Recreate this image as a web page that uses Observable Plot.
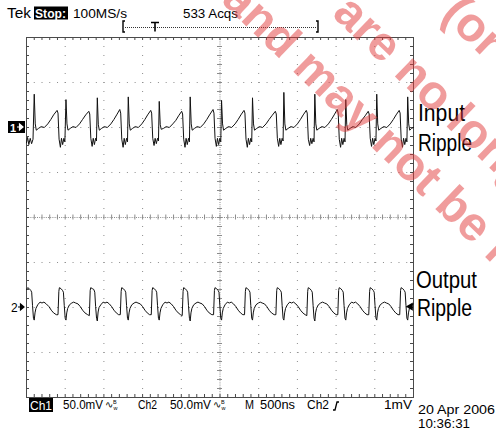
<!DOCTYPE html>
<html><head><meta charset="utf-8">
<script src="https://cdn.jsdelivr.net/npm/d3@7"></script>
<script src="https://cdn.jsdelivr.net/npm/@observablehq/plot@0.6"></script>
<style>
html,body{margin:0;padding:0;background:#fff;}
#chart{position:relative;width:496px;height:433px;overflow:hidden;}
</style></head><body><div id="chart"></div>
<script>
// ---- scope settings ----
const timePerDiv = 500;   // ns / div  (M 500ns)
const ch1Scale = 50;      // mV / div
const ch2Scale = 50;      // mV / div
const ch1Pos = 2;         // ground marker position, divisions
const ch2Pos = -2;
const triggerLevel = 1;   // mV on Ch2
const headerTexts = ["Tek", "Stop:", "100MS/s", "533 Acqs"];
const footerTexts = ["Ch1", "50.0mV", "Ch2", "50.0mV", "M", "500ns", "Ch2", "1mV"];
const dateTexts = ["20 Apr 2006", "10:36:31"];
const traceLabels = [["Input", "Ripple"], ["Output", "Ripple"]];

// ---- Ch1 : input ripple (time ns, mV about Ch1 ground) ----
const inputT = [0,14,30,48,66,84,
 100,113,126,155,190,230,275,315,350,395,407,421,438,452,467,483,496,
 510,523,536,565,600,640,685,725,765,805,817,831,848,862,877,893,904,
 915,928,941,970,1005,1045,1090,1130,1165,1205,1217,1231,1248,1262,1277,1293,1305,
 1315,1328,1341,1370,1405,1445,1490,1530,1565,1605,1617,1631,1648,1662,1677,1693,1705,
 1715,1728,1741,1770,1805,1845,1890,1930,1965,2005,2017,2031,2048,2062,2077,2093,2105,
 2115,2128,2141,2170,2205,2245,2290,2330,2365,2410,2422,2436,2453,2467,2482,2498,2510,
 2520,2533,2546,2575,2610,2650,2695,2735,2770,2810,2822,2836,2853,2867,2882,2898,2910,
 2920,2933,2946,2975,3010,3050,3095,3135,3170,3215,3227,3241,3258,3272,3287,3303,3315,
 3325,3338,3351,3380,3415,3455,3500,3540,3575,3615,3627,3641,3658,3672,3687,3703,3715,
 3725,3738,3751,3780,3815,3855,3900,3940,3975,4015,4027,4041,4058,4072,4087,4103,4115,
 4125,4138,4151,4180,4215,4255,4300,4340,4375,4415,4427,4441,4458,4472,4487,4503,4515,
 4525,4538,4551,4580,4615,4655,4700,4740,4775,4815,4827,4841,4858,4872,4887,4903,4915,
 4925,4938,4951,4975,5000];
const inputV = [-17,-11,-19,-12,-18,-13,
 37,4,-3,-1,1,0,4,9,14,19,16,-13,-22,-12,-19,-12,-16,
 31,4,-3,-1,1,0,4,9,14,18,15,-12,-21,-12,-19,-12,-15,
 33,3,-3,-1,1,0,4,9,14,20,16,-13,-22,-12,-19,-12,-16,
 34,4,-3,-1,1,0,4,9,14,19,16,-12,-20,-12,-18,-12,-15,
 29,3,-2,-1,1,0,4,8,13,18,15,-13,-22,-12,-19,-12,-16,
 34,4,-3,-1,1,0,4,9,14,20,16,-12,-21,-12,-19,-12,-16,
 30,4,-3,-1,1,0,4,9,14,19,16,-13,-22,-12,-19,-12,-16,
 33,4,-3,-1,1,0,4,9,13,18,15,-12,-21,-12,-19,-12,-15,
 39,4,-3,-1,1,0,4,9,14,19,16,-13,-20,-12,-18,-12,-16,
 37,4,-3,-1,1,0,4,9,14,20,16,-13,-22,-12,-19,-12,-16,
 31,3,-3,-1,1,0,4,9,13,18,15,-12,-21,-12,-19,-12,-15,
 37,4,-3,-1,1,0,4,9,14,19,16,-13,-22,-12,-19,-12,-16,
 34,4,-3,-1,0];

// ---- Ch2 : output ripple (time ns, mV about Ch2 ground) ----
const outputT = [0,15,35,55,67,78,90,
 100,110,122,145,175,200,225,255,290,320,350,385,407,418,425,445,465,477,488,500,
 510,520,532,555,585,610,635,665,695,725,755,790,812,823,830,850,870,882,893,905,
 915,925,937,960,990,1015,1040,1070,1100,1130,1160,1190,1212,1223,1230,1250,1270,1282,1293,1305,
 1315,1325,1337,1360,1390,1415,1440,1470,1500,1530,1560,1590,1612,1623,1630,1650,1670,1682,1693,1705,
 1715,1725,1737,1760,1790,1815,1840,1870,1900,1930,1960,1990,2012,2023,2030,2050,2070,2082,2093,2105,
 2115,2125,2137,2160,2190,2215,2240,2270,2300,2330,2360,2395,2417,2428,2435,2455,2475,2487,2498,2510,
 2520,2530,2542,2565,2595,2620,2645,2675,2705,2735,2765,2795,2817,2828,2835,2855,2875,2887,2898,2910,
 2920,2930,2942,2965,2995,3020,3045,3075,3105,3135,3165,3200,3222,3233,3240,3260,3280,3292,3303,3315,
 3325,3335,3347,3370,3400,3425,3450,3480,3510,3540,3570,3600,3622,3633,3640,3660,3680,3692,3703,3715,
 3725,3735,3747,3770,3800,3825,3850,3880,3910,3940,3970,4000,4022,4033,4040,4060,4080,4092,4103,4115,
 4125,4135,4147,4170,4200,4225,4250,4280,4310,4340,4370,4400,4422,4433,4440,4460,4480,4492,4503,4515,
 4525,4535,4547,4570,4600,4625,4650,4680,4710,4740,4770,4800,4822,4833,4840,4860,4880,4892,4903,4915,
 4925,4935,4947,4970,5000];
const outputV = [20,22,21,19,17,2,-12,
 -14,-6,-1,3,6,5,6,4,1,-3,-6,-8,-8,18,22,21,19,17,2,-12,
 -14,-6,-1,3,5,6,5,4,1,-3,-6,-8,-9,19,22,21,20,17,1,-12,
 -15,-5,0,3,6,5,6,4,1,-3,-6,-8,-8,18,22,21,19,17,2,-12,
 -14,-6,-1,3,5,6,5,4,1,-3,-6,-8,-8,19,22,21,19,17,2,-12,
 -14,-6,-1,3,6,5,6,4,1,-3,-6,-8,-9,18,22,21,19,17,2,-12,
 -15,-6,-1,3,5,6,5,4,1,-3,-6,-8,-8,19,22,21,19,17,2,-12,
 -14,-6,-1,3,6,5,6,4,1,-3,-6,-8,-8,18,22,21,19,17,2,-12,
 -14,-6,-1,3,5,6,5,4,1,-3,-6,-8,-8,19,22,21,19,17,2,-12,
 -14,-6,-1,3,6,5,6,4,1,-3,-6,-8,-9,18,22,21,19,17,2,-12,
 -15,-6,-1,3,5,6,5,4,1,-3,-6,-8,-8,19,22,21,19,17,2,-12,
 -14,-6,-1,3,6,5,6,4,1,-3,-6,-8,-8,18,22,21,19,17,2,-12,
 -14,-6,-1,3,5,6,5,4,1,-3,-6,-8,-8,19,22,21,19,17,2,-12,
 -14,-6,-1,2,4];

// ---- build tables ----
const screen = 50; // screen mV per division (both channels 50 mV/div)
const ch1 = inputT.map((t, i) => ({t, v: inputV[i] / ch1Scale * screen + ch1Pos * screen}));
const ch2 = outputT.map((t, i) => ({t, v: outputV[i] / ch2Scale * screen + ch2Pos * screen}));

const W = 496, H = 433, mL = 26, mR = 83, mT = 37, mB = 36;
const xDom = [0, 10 * timePerDiv], yDom = [-4 * screen, 4 * screen];
const ppx = (xDom[1] - xDom[0]) / (W - mL - mR); // ns per px
const ppy = (yDom[1] - yDom[0]) / (H - mT - mB); // mV per px
const majorX = d3.range(1, 10).filter(k => k !== 5).map(k => k * timePerDiv);
const majorY = [-3, -2, -1, 1, 2, 3].map(k => k * screen);
const minorX = d3.range(0, 51).map(k => k * timePerDiv / 5);
const minorY = d3.range(0, 41).map(k => yDom[0] + k * screen / 5);
const cx = 5 * timePerDiv;
const grid = "#8c8c8c", frameC = "#4a4a4a";

const plot = Plot.plot({
  width: W, height: H,
  marginLeft: mL, marginRight: mR, marginTop: mT, marginBottom: mB,
  x: {domain: xDom, axis: null},
  y: {domain: yDom, axis: null},
  style: {background: "#fff", fontFamily: "Liberation Sans, Arial, sans-serif"},
  marks: [
    Plot.ruleX(majorX, {stroke: grid, strokeDasharray: "1 8"}),
    Plot.ruleY(majorY, {stroke: grid, strokeDasharray: "1 6.76"}),
    Plot.ruleX([cx], {stroke: grid, strokeDasharray: "1 1.2"}),
    Plot.ruleY([0], {stroke: grid, strokeDasharray: "1 1.2"}),
    Plot.ruleY(minorY, {y: d => d, x1: cx - 2.5 * ppx, x2: cx + 2.5 * ppx, stroke: grid}),
    Plot.ruleX(minorX, {x: d => d, y1: -2.5 * ppy, y2: 2.5 * ppy, stroke: grid}),
    Plot.ruleX(minorX, {x: d => d, y1: yDom[1], y2: yDom[1] - 3 * ppy, stroke: frameC}),
    Plot.ruleX(minorX, {x: d => d, y1: yDom[0], y2: yDom[0] + 3 * ppy, stroke: frameC}),
    Plot.ruleY(minorY, {y: d => d, x1: xDom[0], x2: xDom[0] + 3 * ppx, stroke: frameC}),
    Plot.ruleY(minorY, {y: d => d, x1: xDom[1], x2: xDom[1] - 3 * ppx, stroke: frameC}),
    Plot.frame({stroke: frameC}),
    Plot.line(ch1, {x: "t", y: "v", stroke: "#111", strokeWidth: 1}),
    Plot.line(ch2, {x: "t", y: "v", stroke: "#111", strokeWidth: 1}),
    Plot.dot([triggerLevel], {x: () => xDom[1], y: d => d / ch2Scale * screen + ch2Pos * screen, symbol: "triangle", rotate: -90, r: 3, fill: "#000", dx: -3})
  ]
});
document.getElementById("chart").appendChild(plot);

// ---- readouts and annotations ----
const svg = d3.select(plot);
const X = v => plot.scale("x").apply(v), Y = v => plot.scale("y").apply(v);
const F = "Liberation Sans, Arial, sans-serif";
function txt(g, s, x, y, o = {}) {
  const t = g.append("text").attr("x", x).attr("y", y).text(s)
    .attr("font-family", o.family || F).attr("font-size", o.size || 12.5)
    .attr("fill", o.fill || "#000").attr("font-weight", o.weight || "normal")
    .attr("text-anchor", o.anchor || "start");
  if (o.len) t.attr("textLength", o.len).attr("lengthAdjust", "spacingAndGlyphs");
  return t;
}
const g = svg.append("g").attr("text-anchor", "start");
// header
txt(g, headerTexts[0], 7, 18, {size: 15, len: 24});
g.append("rect").attr("x", 34).attr("y", 6.5).attr("width", 34).attr("height", 13).attr("fill", "#000");
txt(g, headerTexts[1], 35, 17.5, {size: 13, fill: "#fff", weight: "bold", len: 31});
txt(g, headerTexts[2], 73, 18, {size: 13, len: 54});
txt(g, headerTexts[3], 183, 18, {size: 13, len: 55});
// record / trigger position bar
g.append("path").attr("d", "M125,21 h-2 v11 h2 M316,21 h2 v11 h-2").attr("fill", "none").attr("stroke", "#000").attr("stroke-width", 1.4);
g.append("line").attr("x1", 125).attr("x2", 316).attr("y1", 27.5).attr("y2", 27.5).attr("stroke", "#333").attr("stroke-dasharray", "1 1");
g.append("path").attr("d", "M151,22.5 h8 M155,22.5 v9").attr("stroke", "#000").attr("stroke-width", 1.6).attr("fill", "none");
// footer
g.append("rect").attr("x", 29).attr("y", 398).attr("width", 24).attr("height", 14).attr("fill", "#000");
txt(g, footerTexts[0], 30, 410, {size: 13, fill: "#fff", len: 22});
txt(g, footerTexts[1], 63, 409, {len: 40});
txt(g, footerTexts[2], 138, 409, {len: 19});
txt(g, footerTexts[3], 170, 409, {len: 41});
[105, 213].forEach(x0 => {
  txt(g, "\u223F", x0, 408, {size: 10});
  txt(g, "B", x0 + 8, 403.5, {size: 5.5});
  txt(g, "w", x0 + 8.5, 410, {size: 5.5});
});
txt(g, footerTexts[4], 245, 409, {len: 9});
txt(g, footerTexts[5], 260, 409, {len: 35});
txt(g, footerTexts[6], 307, 409, {len: 22});
g.append("path").attr("d", "M333,410 h2 l2,-8 h2").attr("fill", "none").attr("stroke", "#000").attr("stroke-width", 1.3);
txt(g, footerTexts[7], 412, 409, {anchor: "end", len: 28});
txt(g, dateTexts[0], 418, 414, {size: 13, len: 77});
txt(g, dateTexts[1], 418, 428, {size: 13, len: 52});
// channel ground markers
const y1 = Y(ch1Pos * screen), y2 = Y(ch2Pos * screen);
g.append("rect").attr("x", 8).attr("y", y1 - 6).attr("width", 17).attr("height", 12).attr("fill", "#000");
txt(g, "1", 10, y1 + 4.5, {size: 11, weight: "bold", fill: "#fff"});
g.append("path").attr("d", `M17,${y1} h4 M19.5,${y1 - 3} l3.5,3 l-3.5,3 z`).attr("stroke", "#fff").attr("fill", "#fff").attr("stroke-width", 1.2);
txt(g, "2", 11, y2 + 4.5, {size: 12});
g.append("path").attr("d", `M18,${y2} h4 M20.5,${y2 - 3} l3.5,3 l-3.5,3 z`).attr("stroke", "#000").attr("fill", "#000").attr("stroke-width", 1.2);
// trace labels
const lx = X(xDom[1]) + 5;
txt(g, traceLabels[0][0], lx, Y(ch1Pos * screen) - 6, {size: 23, len: 47});
txt(g, traceLabels[0][1], lx, Y(ch1Pos * screen) + 24, {size: 23, len: 54});
txt(g, traceLabels[1][0], lx - 2, Y(ch2Pos * screen) - 19, {size: 23, len: 61});
txt(g, traceLabels[1][1], lx - 1, Y(ch2Pos * screen) + 9, {size: 23, len: 55});
// watermark
const wm = svg.append("g").attr("opacity", 0.5).attr("fill", "rgb(226,60,60)").attr("text-anchor", "start")
  .attr("font-family", F).attr("font-weight", "bold").attr("font-size", 48);
[["and may not be reproduced", 220, 1], ["are no longer", 331, 15], ["(or Property", 440, 16]].forEach(([s, x, y]) => {
  wm.append("text").attr("x", x).attr("y", y).attr("text-anchor", "start").attr("transform", `rotate(44,${x},${y})`).text(s);
});
</script></body></html>
